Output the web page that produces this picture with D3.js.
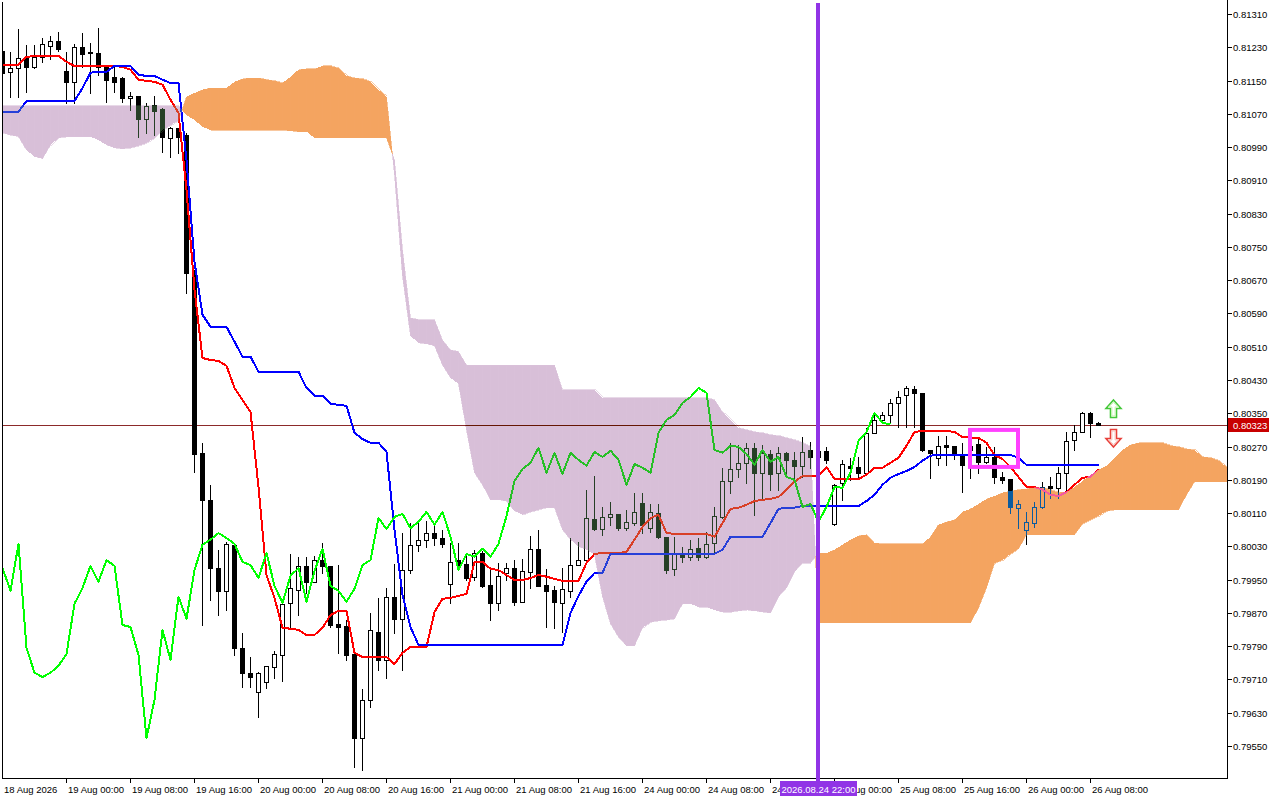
<!DOCTYPE html>
<html><head><meta charset="utf-8">
<script src="https://cdn.jsdelivr.net/npm/d3@7"></script>
<style>
html,body{margin:0;padding:0;background:#fff;}
svg{display:block;}
text{font-family:"Liberation Sans",Arial,sans-serif;font-size:9.5px;}
</style></head><body>
<svg id="c" width="1280" height="800"></svg>
<script>
// ---------- DATA (H1 bars, first bar = 18 Aug 2026 16:00) ----------
const opens = [0.81221,0.81171,0.81180,0.81204,0.81183,0.81207,0.81233,0.81245,0.81173,0.81147,
0.81231,0.81219,0.81217,0.81183,0.81159,0.81156,0.81108,0.81113,0.81058,0.81091,
0.81082,0.81012,0.81036,0.81019,0.80683,0.80255,0.80142,0.79978,0.79923,0.80034,
0.79786,0.79726,0.79680,0.79704,0.79740,0.79769,0.79894,0.79925,0.79983,0.79945,
0.79997,0.79983,0.79844,0.79839,0.79771,0.79569,0.79661,0.79824,0.79757,0.79909,
0.79856,0.79973,0.80034,0.80046,0.80062,0.80050,0.79940,0.79997,0.79988,0.79957,
0.80014,0.79937,0.79894,0.79966,0.79978,0.79897,0.79969,0.80024,0.79937,0.79925,
0.79894,0.79923,0.79985,0.79997,0.80096,0.80072,0.80101,0.80108,0.80074,0.80086,
0.80135,0.80074,0.80110,0.80053,0.79976,0.80010,0.80005,0.80026,0.80005,0.80038,
0.80101,0.80187,0.80216,0.80231,0.80267,0.80207,0.80252,0.80207,0.80255,0.80238,
0.80224,0.80262,0.80245,0.80260,0.80084,0.80183,0.80224,0.80221,0.80207,0.80303,
0.80334,0.80346,0.80375,0.80394,0.80409,0.80399,0.80262,0.80243,0.80274,0.80272,
0.80250,0.80272,0.80276,0.80233,0.80245,0.80197,0.80192,0.80123,0.80070,0.80086,
0.80125,0.80175,0.80171,0.80207,0.80286,0.80305,0.80351,0.80327];
const highs = [0.81248,0.81219,0.81274,0.81236,0.81236,0.81253,0.81257,0.81267,0.81219,0.81238,
0.81265,0.81241,0.81277,0.81183,0.81183,0.81159,0.81123,0.81113,0.81096,0.81113,
0.81084,0.81039,0.81036,0.81024,0.80695,0.80279,0.80178,0.80022,0.80041,0.80034,
0.79822,0.79764,0.79728,0.79743,0.79779,0.79897,0.80012,0.80005,0.80005,0.80007,
0.80038,0.79983,0.79985,0.79853,0.79771,0.79687,0.79870,0.79906,0.79930,0.79988,
0.80062,0.80086,0.80086,0.80091,0.80086,0.80070,0.80038,0.80038,0.80014,0.80022,
0.80019,0.79981,0.79990,0.79990,0.79997,0.80000,0.80055,0.80070,0.79976,0.79935,
0.79978,0.80050,0.80041,0.80166,0.80199,0.80125,0.80137,0.80108,0.80118,0.80159,
0.80159,0.80132,0.80132,0.80053,0.80053,0.80029,0.80046,0.80050,0.80065,0.80125,
0.80219,0.80279,0.80274,0.80279,0.80279,0.80274,0.80262,0.80269,0.80257,0.80257,
0.80293,0.80281,0.80274,0.80269,0.80180,0.80238,0.80243,0.80245,0.80315,0.80351,
0.80353,0.80385,0.80404,0.80416,0.80416,0.80399,0.80262,0.80296,0.80296,0.80272,
0.80279,0.80272,0.80291,0.80269,0.80269,0.80209,0.80192,0.80142,0.80113,0.80137,
0.80185,0.80197,0.80221,0.80305,0.80322,0.80353,0.80353,0.80329];
const lows = [0.81116,0.81111,0.81111,0.81123,0.81180,0.81195,0.81202,0.81221,0.81096,0.81096,
0.81183,0.81120,0.81164,0.81099,0.81123,0.81099,0.81079,0.81015,0.81024,0.81019,
0.80979,0.80967,0.80976,0.80640,0.80209,0.79841,0.79901,0.79865,0.79877,0.79769,
0.79692,0.79692,0.79620,0.79690,0.79714,0.79707,0.79836,0.79865,0.79918,0.79945,
0.79966,0.79836,0.79774,0.79757,0.79500,0.79493,0.79644,0.79733,0.79714,0.79822,
0.79733,0.79966,0.80019,0.80029,0.80034,0.80029,0.79894,0.79978,0.79949,0.79949,
0.79933,0.79853,0.79877,0.79949,0.79889,0.79897,0.79930,0.79935,0.79836,0.79834,
0.79824,0.79909,0.79985,0.79997,0.80070,0.80058,0.80082,0.80070,0.80070,0.80082,
0.80062,0.80065,0.80050,0.79966,0.79961,0.79993,0.79997,0.79997,0.80002,0.80014,
0.80098,0.80159,0.80197,0.80183,0.80106,0.80147,0.80166,0.80166,0.80197,0.80195,
0.80197,0.80219,0.80226,0.80231,0.80082,0.80142,0.80190,0.80195,0.80207,0.80303,
0.80327,0.80327,0.80317,0.80317,0.80317,0.80260,0.80195,0.80226,0.80226,0.80240,
0.80161,0.80195,0.80207,0.80231,0.80183,0.80183,0.80110,0.80074,0.80036,0.80077,
0.80123,0.80147,0.80147,0.80161,0.80262,0.80305,0.80293,0.80323];
const closes = [0.81169,0.81180,0.81204,0.81183,0.81207,0.81238,0.81245,0.81226,0.81147,0.81231,
0.81214,0.81217,0.81183,0.81152,0.81147,0.81108,0.81113,0.81058,0.81089,0.81077,
0.81015,0.81036,0.81015,0.80688,0.80252,0.80142,0.79978,0.79923,0.80036,0.79786,
0.79726,0.79716,0.79726,0.79743,0.79771,0.79892,0.79930,0.79983,0.79945,0.79997,
0.79983,0.79841,0.79836,0.79769,0.79569,0.79661,0.79829,0.79757,0.79909,0.79856,
0.79973,0.80034,0.80046,0.80062,0.80050,0.80036,0.79993,0.79985,0.79954,0.80014,
0.79935,0.79894,0.79959,0.79978,0.79897,0.79971,0.80024,0.79935,0.79923,0.79897,
0.79928,0.79985,0.79997,0.80098,0.80072,0.80101,0.80108,0.80074,0.80089,0.80113,
0.80082,0.80113,0.80053,0.79973,0.80012,0.80005,0.80024,0.80005,0.80036,0.80103,
0.80187,0.80216,0.80231,0.80267,0.80207,0.80255,0.80204,0.80255,0.80238,0.80224,
0.80257,0.80245,0.80260,0.80238,0.80178,0.80228,0.80219,0.80207,0.80303,0.80334,
0.80346,0.80375,0.80389,0.80411,0.80399,0.80262,0.80255,0.80272,0.80269,0.80252,
0.80226,0.80262,0.80233,0.80245,0.80197,0.80190,0.80125,0.80132,0.80089,0.80125,
0.80173,0.80171,0.80207,0.80284,0.80305,0.80351,0.80327,0.80323];

const tenkan = [0.81188,0.81188,0.81188,0.81207,0.81209,0.81209,0.81209,0.81209,0.81195,0.81185,
0.81185,0.81185,0.81185,0.81185,0.81185,0.81183,0.81176,0.81152,0.81149,0.81147,
0.81140,0.81104,0.81072,0.80887,0.80647,0.80483,0.80478,0.80476,0.80464,0.80411,
0.80382,0.80353,0.80173,0.79961,0.79906,0.79834,0.79832,0.79829,0.79817,0.79817,
0.79834,0.79865,0.79875,0.79875,0.79774,0.79764,0.79764,0.79764,0.79764,0.79747,
0.79774,0.79788,0.79788,0.79788,0.79872,0.79904,0.79906,0.79911,0.79916,0.79993,
0.79993,0.79976,0.79973,0.79961,0.79949,0.79949,0.79954,0.79961,0.79957,0.79952,
0.79947,0.79947,0.79947,0.79990,0.80012,0.80014,0.80014,0.80014,0.80017,0.80046,
0.80077,0.80098,0.80106,0.80062,0.80060,0.80060,0.80060,0.80060,0.80060,0.80053,
0.80086,0.80120,0.80123,0.80130,0.80139,0.80142,0.80144,0.80149,0.80166,0.80185,
0.80199,0.80199,0.80199,0.80221,0.80192,0.80192,0.80192,0.80192,0.80202,0.80219,
0.80219,0.80231,0.80243,0.80272,0.80305,0.80308,0.80308,0.80308,0.80308,0.80305,
0.80293,0.80291,0.80291,0.80279,0.80250,0.80240,0.80221,0.80197,0.80173,0.80173,
0.80166,0.80154,0.80151,0.80161,0.80178,0.80195,0.80197,0.80216];
const kijun = [0.81075,0.81075,0.81075,0.81101,0.81101,0.81101,0.81101,0.81101,0.81101,0.81101,
0.81132,0.81169,0.81171,0.81171,0.81185,0.81185,0.81185,0.81164,0.81161,0.81161,
0.81152,0.81144,0.81144,0.80959,0.80714,0.80587,0.80558,0.80558,0.80558,0.80522,
0.80486,0.80486,0.80450,0.80450,0.80450,0.80450,0.80450,0.80450,0.80411,0.80392,
0.80392,0.80373,0.80370,0.80368,0.80303,0.80288,0.80279,0.80279,0.80257,0.80070,
0.79913,0.79836,0.79793,0.79793,0.79793,0.79793,0.79793,0.79793,0.79793,0.79793,
0.79793,0.79793,0.79793,0.79793,0.79793,0.79793,0.79793,0.79793,0.79793,0.79793,
0.79793,0.79870,0.79911,0.79945,0.79966,0.79966,0.80012,0.80012,0.80012,0.80012,
0.80012,0.80012,0.80012,0.80012,0.80012,0.80012,0.80012,0.80012,0.80012,0.80012,
0.80022,0.80053,0.80053,0.80053,0.80053,0.80053,0.80086,0.80120,0.80123,0.80123,
0.80127,0.80127,0.80127,0.80127,0.80127,0.80127,0.80127,0.80127,0.80139,0.80154,
0.80178,0.80195,0.80204,0.80211,0.80221,0.80236,0.80248,0.80250,0.80250,0.80250,
0.80250,0.80250,0.80250,0.80250,0.80250,0.80250,0.80250,0.80243,0.80226,0.80226,
0.80226,0.80226,0.80226,0.80226,0.80226,0.80226,0.80226,0.80226];
// Senkou spans as plotted (already displaced 26 bars forward), bar 0 .. 153
const spanA = [0.81024,0.81019,0.81015,0.80983,0.80967,0.80962,0.80995,0.81012,0.81015,0.81015,
0.81015,0.81015,0.81007,0.80995,0.80988,0.80986,0.80988,0.80993,0.81000,0.81012,
0.81031,0.81043,0.81053,0.81111,0.81120,0.81128,0.81132,0.81132,0.81132,0.81147,
0.81154,0.81156,0.81156,0.81152,0.81149,0.81144,0.81159,0.81176,0.81178,0.81178,
0.81185,0.81185,0.81180,0.81161,0.81156,0.81154,0.81147,0.81128,0.81111,0.80923,
0.80680,0.80536,0.80519,0.80517,0.80512,0.80466,0.80435,0.80421,0.80310,0.80207,
0.80178,0.80142,0.80142,0.80139,0.80115,0.80106,0.80113,0.80118,0.80123,0.80123,
0.80070,0.80046,0.80029,0.80022,0.80010,0.79909,0.79844,0.79812,0.79791,0.79791,
0.79834,0.79848,0.79851,0.79853,0.79856,0.79892,0.79892,0.79884,0.79884,0.79877,
0.79872,0.79872,0.79875,0.79877,0.79875,0.79872,0.79870,0.79909,0.79930,0.79969,
0.79990,0.79990,0.80014,0.80014,0.80022,0.80034,0.80046,0.80055,0.80058,0.80038,
0.80036,0.80036,0.80036,0.80036,0.80036,0.80036,0.80053,0.80082,0.80089,0.80094,
0.80113,0.80120,0.80132,0.80144,0.80151,0.80159,0.80163,0.80166,0.80168,0.80171,
0.80171,0.80166,0.80159,0.80161,0.80173,0.80187,0.80202,0.80214,0.80224,0.80243,
0.80262,0.80274,0.80279,0.80279,0.80279,0.80279,0.80272,0.80269,0.80264,0.80262,
0.80245,0.80243,0.80236,0.80221];
const spanB = [0.81089,0.81089,0.81089,0.81089,0.81089,0.81089,0.81089,0.81089,0.81089,0.81089,
0.81089,0.81089,0.81089,0.81089,0.81089,0.81089,0.81089,0.81089,0.81089,0.81089,
0.81089,0.81089,0.81089,0.81067,0.81055,0.81039,0.81031,0.81031,0.81031,0.81031,
0.81031,0.81031,0.81031,0.81031,0.81031,0.81031,0.81029,0.81027,0.81027,0.81012,
0.81012,0.81012,0.81012,0.81012,0.81012,0.81012,0.81012,0.81012,0.81012,0.80959,
0.80743,0.80579,0.80575,0.80575,0.80575,0.80526,0.80502,0.80498,0.80466,0.80466,
0.80466,0.80466,0.80466,0.80466,0.80466,0.80466,0.80466,0.80466,0.80466,0.80466,
0.80406,0.80406,0.80406,0.80406,0.80406,0.80387,0.80387,0.80387,0.80387,0.80387,
0.80387,0.80387,0.80387,0.80387,0.80387,0.80387,0.80387,0.80387,0.80387,0.80382,
0.80353,0.80334,0.80315,0.80310,0.80305,0.80303,0.80298,0.80296,0.80291,0.80286,
0.80279,0.80269,0.79846,0.79846,0.79846,0.79846,0.79846,0.79846,0.79846,0.79846,
0.79846,0.79846,0.79846,0.79846,0.79846,0.79846,0.79846,0.79846,0.79846,0.79846,
0.79846,0.79846,0.79882,0.79930,0.79990,0.79997,0.80012,0.80024,0.80058,0.80058,
0.80058,0.80058,0.80058,0.80058,0.80058,0.80084,0.80094,0.80103,0.80115,0.80118,
0.80118,0.80118,0.80118,0.80118,0.80118,0.80118,0.80118,0.80118,0.80154,0.80185,
0.80185,0.80185,0.80185,0.80185];
const chikouShift = 26;

const priceTicks = [0.81310,0.81230,0.81150,0.81070,0.80990,0.80910,0.80830,0.80750,0.80670,0.80590,
0.80510,0.80430,0.80350,0.80270,0.80190,0.80110,0.80030,0.79950,0.79870,0.79790,0.79710,0.79630,0.79550];
const timeLabels = ["18 Aug 2026","19 Aug 00:00","19 Aug 08:00","19 Aug 16:00","20 Aug 00:00","20 Aug 08:00",
"20 Aug 16:00","21 Aug 00:00","21 Aug 08:00","21 Aug 16:00","24 Aug 00:00","24 Aug 08:00","24 Aug 16:00",
"25 Aug 00:00","25 Aug 08:00","25 Aug 16:00","26 Aug 00:00","26 Aug 08:00"];
const timeLabelBars = [0,8,16,24,32,40,48,56,64,72,80,88,96,104,112,120,128,136];
const lastPrice = 0.80323;
const vlineBar = 102, vlineLabel = "2026.08.24 22:00";
const boxBars = [121,127], boxPrices = [0.80310,0.80221];
const arrowBar = 139, arrowUpPrice = 0.80382, arrowDownPrice = 0.80269;

// ---------- SCALES ----------
const svg = d3.select("#c");
const plotL=2, plotR=1227, plotT=2, plotB=778;
const x = d3.scaleLinear().domain([0,153]).range([2,1226]);
const y = d3.scaleLinear().domain([0.79550,0.81310]).range([746,14]);
const vx = x(vlineBar);
const lblL = vx-38, lblW = 77;

svg.append("rect").attr("width",1280).attr("height",800).attr("fill","#fff");
const defs = svg.append("defs");
defs.append("clipPath").attr("id","pc")
  .append("rect").attr("x",plotL+1).attr("y",plotT+1).attr("width",plotR-plotL-1).attr("height",plotB-plotT-1);
// time labels partly hidden behind the vertical-line label box
const tc = defs.append("clipPath").attr("id","tc");
tc.append("rect").attr("x",0).attr("y",779).attr("width",lblL).attr("height",21);
tc.append("rect").attr("x",lblL+lblW).attr("y",779).attr("width",1280-lblL-lblW).attr("height",21);

const plot = svg.append("g").attr("clip-path","url(#pc)");
plot.append("rect").attr("x",0).attr("y",0).attr("width",1280).attr("height",800).attr("fill","#fff");

// price line
const py = Math.round(y(lastPrice))+0.5;
plot.append("line").attr("x1",plotL).attr("x2",plotR).attr("y1",py).attr("y2",py)
  .attr("stroke","#8c2a2a").attr("stroke-width",1);

// candles
const cg = plot.append("g").attr("shape-rendering","crispEdges");
opens.forEach((o,i)=>{
  const c=closes[i], cx=x(i)+0.5;
  cg.append("line").attr("x1",cx).attr("x2",cx)
    .attr("y1",Math.round(y(highs[i]))).attr("y2",Math.round(y(lows[i]))+1)
    .attr("stroke","#000").attr("stroke-width",1);
  const t=Math.round(y(Math.max(o,c))), b=Math.round(y(Math.min(o,c)));
  cg.append("rect").attr("x",x(i)-1.5).attr("y",t+0.5).attr("width",4).attr("height",Math.max(b-t,0.01))
    .attr("fill", c>=o ? "#fff" : "#000").attr("stroke","#000").attr("stroke-width",1);
});

// indicator lines
const lineGen = d3.line().x(d=>x(d[0])+0.5).y(d=>y(d[1]));
const lg = plot.append("g").attr("fill","none").attr("stroke-width",2).attr("shape-rendering","crispEdges").attr("stroke-linejoin","round");
lg.append("path").attr("d",lineGen(tenkan.map((v,i)=>[i,v]))).attr("stroke","#ff0000");
lg.append("path").attr("d",lineGen(kijun.map((v,i)=>[i,v]))).attr("stroke","#0000ff");
lg.append("path").attr("d",lineGen(closes.slice(chikouShift).map((v,i)=>[i,v]))).attr("stroke","#00ff00");

// Kumo (inverse colours + difference blending, like the terminal's XOR fill)
const upInv = "#0b5b9f";   // inverse of sandybrown #f4a460
const dnInv = "#274027";   // inverse of thistle #d8bfd8
const kg = plot.append("g").style("mix-blend-mode","difference").attr("shape-rendering","crispEdges");
for(let j=0;j<spanA.length-1;j++){
  const x0=x(j)+0.5, x1=x(j+1)+0.5;
  const a0=y(spanA[j]), a1=y(spanA[j+1]), b0=y(spanB[j]), b1=y(spanB[j+1]);
  const d0=spanA[j]-spanB[j], d1=spanA[j+1]-spanB[j+1];
  const add=(pts,up)=>kg.append("polygon").attr("points",pts.map(p=>p.join(",")).join(" "))
      .attr("fill",up?upInv:dnInv).attr("stroke",up?upInv:dnInv).attr("stroke-width",0.6);
  if(d0*d1>=0){
    add([[x0,a0],[x1,a1],[x1,b1],[x0,b0]], (d0+d1)>=0);
  } else {
    const t=d0/(d0-d1), xc=x0+t*(x1-x0), yc=a0+t*(a1-a0);
    add([[x0,a0],[xc,yc],[x0,b0]], d0>0);
    add([[xc,yc],[x1,a1],[x1,b1]], d1>0);
  }
}

// vertical line
plot.append("rect").attr("x",vx-2).attr("y",0).attr("width",4).attr("height",plotB+1).attr("fill","#9134e6");

// marker rectangle
plot.append("rect").attr("x",x(boxBars[0])).attr("y",y(boxPrices[0]))
  .attr("width",x(boxBars[1])-x(boxBars[0])).attr("height",y(boxPrices[1])-y(boxPrices[0]))
  .attr("fill","none").attr("stroke","#ff40ff").attr("stroke-width",4);

// arrows
const ax = x(arrowBar)-0.5;
const upY = y(arrowUpPrice), dnY = y(arrowDownPrice);
plot.append("path").attr("transform",`translate(${ax},${upY})`)
  .attr("d","M0,0 L7.5,8.5 L3,8.5 L3,17.5 L-3,17.5 L-3,8.5 L-7.5,8.5 Z")
  .attr("fill","#fff").attr("stroke","#44c83a").attr("stroke-width",1.6);
plot.append("path").attr("transform",`translate(${ax},${upY})`)
  .attr("d","M0,2.5 L5,7 L1.6,7 L1.6,16 L-1.6,16 L-1.6,7 L-5,7 Z")
  .attr("fill","none").attr("stroke","#c8f5b0").attr("stroke-width",1);
plot.append("path").attr("transform",`translate(${ax},${dnY})`)
  .attr("d","M0,0 L7.5,-8.5 L3,-8.5 L3,-17.5 L-3,-17.5 L-3,-8.5 L-7.5,-8.5 Z")
  .attr("fill","#fff").attr("stroke","#e8403a").attr("stroke-width",1.6);
plot.append("path").attr("transform",`translate(${ax},${dnY})`)
  .attr("d","M0,-2.5 L5,-7 L1.6,-7 L1.6,-16 L-1.6,-16 L-1.6,-7 L-5,-7 Z")
  .attr("fill","none").attr("stroke","#f8c0b8").attr("stroke-width",1);

// frame / axes
const ax_g = svg.append("g").attr("shape-rendering","crispEdges");
ax_g.append("line").attr("x1",plotL+0.5).attr("x2",plotL+0.5).attr("y1",plotT).attr("y2",plotB+1).attr("stroke","#000");
ax_g.append("line").attr("x1",plotR+0.5).attr("x2",plotR+0.5).attr("y1",0).attr("y2",plotB+1).attr("stroke","#000");
ax_g.append("line").attr("x1",plotL).attr("x2",plotR+1).attr("y1",plotB+0.5).attr("y2",plotB+0.5).attr("stroke","#000");

// price axis
priceTicks.forEach(p=>{
  const ty=Math.round(y(p))+0.5;
  ax_g.append("line").attr("x1",plotR+1).attr("x2",plotR+5).attr("y1",ty).attr("y2",ty).attr("stroke","#000");
  svg.append("text").attr("x",plotR+6).attr("y",ty).attr("dy","0.35em").attr("fill","#000").text(d3.format(".5f")(p));
});
// last price label
svg.append("rect").attr("x",plotR+1).attr("y",py-7.5).attr("width",41).attr("height",14).attr("fill","#c80000");
svg.append("text").attr("x",plotR+6).attr("y",py).attr("dy","0.35em").attr("fill","#fff").text(d3.format(".5f")(lastPrice));

// time axis
timeLabels.forEach((t,k)=>{
  const b=timeLabelBars[k], tx = x(b)+0.5;
  const tstart = k>0?tx+1.5:4;
  if(k>0) ax_g.append("line").attr("x1",tx).attr("x2",tx).attr("y1",plotB+1).attr("y2",plotB+5).attr("stroke","#000");
  const el = svg.append("text").attr("x",tstart).attr("y",793).attr("fill","#000").text(t);
  if(tstart < lblL+lblW && tstart+58 > lblL) el.attr("clip-path","url(#tc)");
});
// vertical line time label
svg.append("rect").attr("x",lblL).attr("y",781).attr("width",lblW).attr("height",15).attr("fill","#9134e6");
svg.append("rect").attr("x",vx-2).attr("y",plotB).attr("width",4).attr("height",4).attr("fill","#9134e6");
svg.append("text").attr("x",vx+0.5).attr("y",792.5).attr("text-anchor","middle").attr("fill","#fff").text(vlineLabel);
</script>
</body></html>
